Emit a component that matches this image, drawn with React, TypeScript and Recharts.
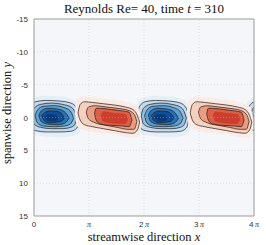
import { ComposedChart, Area, XAxis, YAxis, CartesianGrid, ReferenceLine } from "recharts";

// x in units of pi, y in spanwise units
const xTicks = [0, 1, 2, 3, 4];
const xTickLabels = ["0", "π", "2π", "3π", "4π"];
const yTicks = [-15, -10, -5, 0, 5, 10, 15];

// blob centres (x, in pi)
const blueCenters = [0.37, 2.36, 4.35];
const redCenters = [1.36, 3.4];

// contour levels relative to each blob centre: dx (pi), lower / upper y
const blueHalo = { dx: [-0.52, -0.47, -0.35, -0.15, 0.1, 0.3, 0.45, 0.51], lo: [-0.3, -2.4, -3.1, -3.3, -3.2, -2.9, -1.9, 0.2], hi: [-0.3, 2.1, 2.7, 2.9, 3.0, 2.9, 2.3, 0.2] };
const blueL1 = { dx: [-0.48, -0.44, -0.34, -0.15, 0.1, 0.3, 0.41, 0.46], lo: [-0.4, -1.7, -2.4, -2.6, -2.5, -2.2, -1.4, 0.1], hi: [-0.4, 1.5, 2.0, 2.2, 2.2, 2.1, 1.6, 0.1] };
const blueL2 = { dx: [-0.41, -0.37, -0.25, -0.05, 0.15, 0.3, 0.37, 0.41], lo: [-0.3, -1.4, -2.0, -2.2, -2.0, -1.6, -0.9, 0.1], hi: [-0.3, 1.0, 1.5, 1.7, 1.7, 1.5, 1.1, 0.1] };
const blueL3 = { dx: [-0.35, -0.31, -0.2, 0, 0.18, 0.29, 0.35], lo: [-0.3, -1.1, -1.7, -1.8, -1.5, -1.0, 0.1], hi: [-0.3, 0.8, 1.3, 1.4, 1.3, 1.0, 0.1] };
const blueL4 = { dx: [-0.28, -0.24, -0.12, 0.05, 0.18, 0.27], lo: [-0.3, -1.0, -1.4, -1.3, -0.9, 0.1], hi: [-0.3, 0.6, 1.0, 1.1, 0.9, 0.1] };
const blueL5 = { dx: [-0.23, -0.18, -0.08, 0.06, 0.14, 0.18], lo: [-0.3, -0.7, -1.0, -0.9, -0.5, 0.1], hi: [-0.3, 0.5, 0.8, 0.7, 0.5, 0.1] };
const blueCore = { dx: [-0.18, -0.12, -0.03, 0.04, 0.07], lo: [-0.1, -0.5, -0.5, -0.3, 0.1], hi: [-0.1, 0.5, 0.6, 0.5, 0.1] };

const redHalo = { dx: [-0.62, -0.58, -0.45, -0.2, 0.1, 0.35, 0.53, 0.6], lo: [-0.8, -2.8, -3.2, -3.0, -2.7, -2.3, -1.6, 0.8], hi: [-0.8, 1.3, 1.9, 2.3, 2.6, 3.0, 3.0, 0.8] };
const redL1 = { dx: [-0.56, -0.52, -0.44, -0.3, -0.1, 0.1, 0.3, 0.44, 0.52, 0.56], lo: [-0.7, -2.0, -2.4, -2.3, -2.1, -1.9, -1.6, -1.2, -0.3, 0.7], hi: [-0.7, 0.4, 1.1, 1.4, 1.7, 2.0, 2.3, 2.4, 1.9, 0.7] };
const redL2 = { dx: [-0.41, -0.37, -0.25, -0.05, 0.15, 0.35, 0.46, 0.51], lo: [-0.8, -1.6, -1.8, -1.6, -1.4, -1.1, -0.5, 0.6], hi: [-0.8, 0.2, 0.8, 1.2, 1.5, 1.8, 1.8, 0.6] };
const redL3 = { dx: [-0.26, -0.23, -0.15, 0.05, 0.25, 0.37, 0.42], lo: [-0.6, -1.4, -1.4, -1.2, -1.0, -0.8, 0.4], hi: [-0.6, 0.4, 1.0, 1.2, 1.3, 1.4, 0.4] };
const redCore = { dx: [-0.15, -0.1, 0.1, 0.3, 0.35], lo: [-0.3, -0.9, -0.7, -0.5, 0.2], hi: [-0.3, 0.6, 0.9, 1.0, 0.2] };

const blueLevels = [
  { shape: blueHalo, fill: "#e4eef7", line: false },
  { shape: blueL1, fill: "#c6dcee", line: true },
  { shape: blueL2, fill: "#93c0e0", line: true },
  { shape: blueL3, fill: "#5c9fd0", line: true },
  { shape: blueL4, fill: "#2b72b5", line: true },
  { shape: blueL5, fill: "#104f97", line: true },
  { shape: blueCore, fill: "#093a78", line: false },
];
const redLevels = [
  { shape: redHalo, fill: "#fbebe4", line: false },
  { shape: redL1, fill: "#f6d0bf", line: true },
  { shape: redL2, fill: "#ec9c80", line: true },
  { shape: redL3, fill: "#dc5f47", line: true },
  { shape: redCore, fill: "#cc3e2e", line: false },
];

type Shape = { dx: number[]; lo: number[]; hi: number[] };
const rows = (s: Shape, c: number) => s.dx.map((d, i) => ({ x: c + d, y: [s.lo[i], s.hi[i]] }));

const sans = "Liberation Sans, Arial, sans-serif";
const serif = "Liberation Serif, Times New Roman, serif";

const XTick = (props: any) => {
  const { x, y, payload } = props;
  const lab = xTickLabels[xTicks.indexOf(payload.value)] ?? "";
  const num = lab.replace("π", "");
  const hasPi = lab.includes("π");
  return (
    <text x={x} y={y + 11} textAnchor="middle" fontSize={8} fill="#333">
      <tspan fontFamily={sans} fill="#333">{num}</tspan>
      {hasPi && <tspan fontFamily={serif} fontStyle="italic" fill="#333" dx={num ? 1.5 : 0}>π</tspan>}
    </text>
  );
};

const YTick = (props: any) => {
  const { x, y, payload } = props;
  return (
    <text x={x - 6} y={y + 3} textAnchor="end" fontSize={8} fill="#333" fontFamily={sans}>
      {payload.value}
    </text>
  );
};

export default function App() {
  const series: any[] = [];
  blueCenters.forEach((c, bi) =>
    blueLevels.forEach((lv, li) => series.push({ key: `b${bi}-${li}`, data: rows(lv.shape, c), ...lv }))
  );
  redCenters.forEach((c, bi) =>
    redLevels.forEach((lv, li) => series.push({ key: `r${bi}-${li}`, data: rows(lv.shape, c), ...lv }))
  );

  return (
    <div style={{ position: "absolute", left: 0, top: 0, width: 266, height: 245, background: "#fff" }}>
      <div style={{ position: "absolute", left: 34, top: 1, width: 220, textAlign: "center", fontFamily: serif, fontSize: 13, color: "#111" }}>
        Reynolds Re= 40, time <i>t</i> = 310
      </div>
      <div style={{ position: "absolute", left: 34, top: 230, width: 220, textAlign: "center", fontFamily: serif, fontSize: 12.5, lineHeight: "14px", color: "#111" }}>
        streamwise direction <i>x</i>
      </div>
      <div style={{ position: "absolute", left: 7, top: 113, width: 0, height: 0 }}>
        <div style={{ position: "absolute", transform: "translate(-50%, -50%) rotate(-90deg)", whiteSpace: "nowrap", fontFamily: serif, fontSize: 12.5, color: "#111" }}>
          spanwise direction <i>y</i>
        </div>
      </div>
      <ComposedChart width={266} height={245} margin={{ top: 19, right: 12, bottom: 0, left: 0 }}>
        <CartesianGrid fill="#f4f6f9" stroke="none" />
        <XAxis type="number" dataKey="x" domain={[0, 4]} ticks={xTicks} allowDataOverflow tick={<XTick />} tickLine={false} tickSize={0} tickMargin={0} axisLine={{ stroke: "#9a9a9a" }} height={29} interval={0} />
        <YAxis type="number" domain={[-15, 15]} ticks={yTicks} reversed allowDataOverflow tick={<YTick />} tickLine={false} tickSize={0} tickMargin={0} axisLine={{ stroke: "#9a9a9a" }} width={34} interval={0} />
        {series.map((s) => (
          <Area
            key={s.key}
            data={s.data}
            dataKey="y"
            type="monotone"
            fill={s.fill}
            fillOpacity={1}
            stroke={s.line ? "#1b1b1b" : "none"}
            strokeWidth={0.7}
            dot={false}
            activeDot={false}
            isAnimationActive={false}
          />
        ))}
        {[1, 2, 3].map((v) => (
          <ReferenceLine key={`gx${v}`} x={v} stroke="#b8b8b8" strokeOpacity={0.7} strokeDasharray="1 2" strokeWidth={0.6} />
        ))}
        {[-10, -5, 0, 5, 10].map((v) => (
          <ReferenceLine key={`gy${v}`} y={v} stroke="#b8b8b8" strokeOpacity={0.7} strokeDasharray="1 2" strokeWidth={0.6} />
        ))}
        <ReferenceLine y={-15} stroke="#9a9a9a" />
        <ReferenceLine x={4} stroke="#9a9a9a" />
      </ComposedChart>
    </div>
  );
}
